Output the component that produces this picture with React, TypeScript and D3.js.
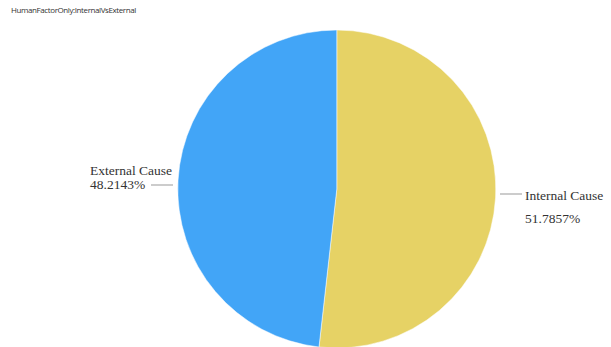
import React from "react";
import * as d3 from "d3";

const categories = ["Internal Cause", "External Cause"];
const values = [51.7857, 48.2143];
const colors = ["#e6d265", "#42a5f7"];
const title = "HumanFactorOnly:InternalVsExternal";

export default function App() {
  const W = 611, H = 347;
  const cx = 336.8, cy = 189, r = 159;
  const pie = d3.pie<number>().sort(null).value((d) => d);
  const arcs = pie(values);
  const arc = d3.arc<d3.PieArcDatum<number>>().innerRadius(0).outerRadius(r);
  const font = "Liberation Serif, Times New Roman, serif";
  return (
    <svg width={W} height={H} style={{ position: "absolute", left: 0, top: 0, background: "#fff" }}>
      <text x={11} y={13} fontFamily="Open Sans, sans-serif" fontSize={8} letterSpacing={-0.4} fill="#333">{title}</text>
      <g transform={`translate(${cx},${cy})`}>
        {arcs.map((a, i) => (
          <path key={i} d={arc(a) || ""} fill={colors[i]} stroke="#fff" strokeWidth={0.5} />
        ))}
      </g>
      <line x1={500} y1={194} x2={522} y2={194} stroke="#999" strokeWidth={1} />
      <text x={525} y={199.5} fontFamily={font} fontSize={13.5} fill="#333">{categories[0]}</text>
      <text x={525} y={222.5} fontFamily={font} fontSize={13.5} fill="#333">{values[0]}%</text>
      <line x1={151} y1={185} x2={173} y2={185} stroke="#999" strokeWidth={1} />
      <text x={90} y={175} fontFamily={font} fontSize={13.5} fill="#333">{categories[1]}</text>
      <text x={90} y={188.5} fontFamily={font} fontSize={13.5} fill="#333">{values[1]}%</text>
    </svg>
  );
}
